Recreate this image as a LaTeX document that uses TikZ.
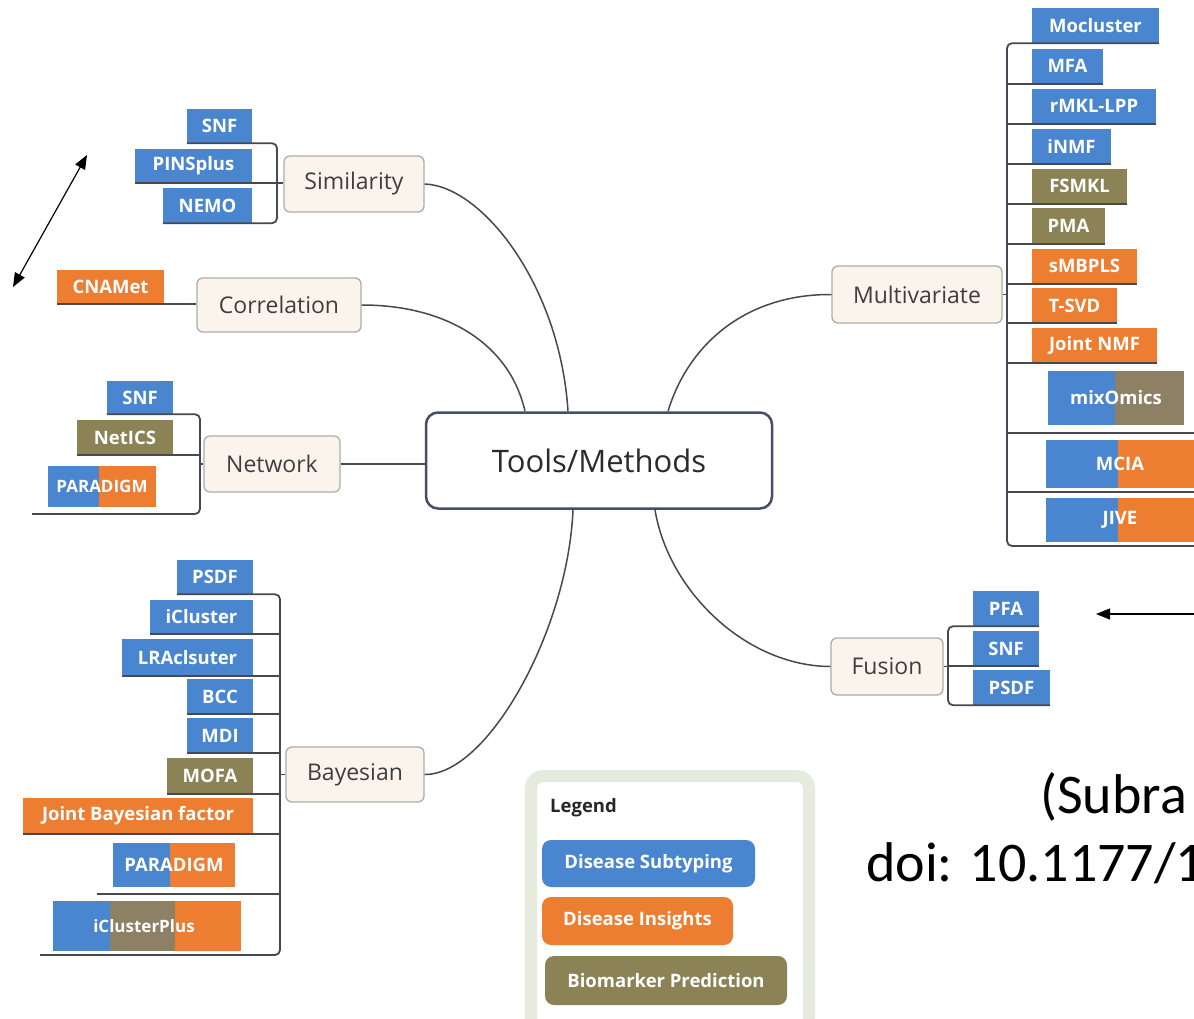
\documentclass[tikz,border=0pt]{standalone}
\usepackage{fontspec}
\setmainfont{Open Sans}
\newfontfamily\citefont{Carlito}
\usetikzlibrary{arrows.meta}
\definecolor{cblue}{RGB}{74,134,207}
\definecolor{corange}{RGB}{237,125,49}
\definecolor{colive}{RGB}{139,131,86}
\definecolor{cbrown}{RGB}{142,128,100}
\definecolor{cbeige}{RGB}{251,244,236}
\definecolor{cbeigeborder}{RGB}{175,172,168}
\definecolor{cline}{RGB}{72,72,80}
\definecolor{ccenter}{RGB}{70,76,105}
\definecolor{ctext}{RGB}{62,62,62}
\definecolor{clegbord}{RGB}{230,235,222}
\tikzset{
  leaftxt/.style={inner sep=0pt, text=white, font=\fontsize{18.5}{20}\selectfont\bfseries},
  leafb/.style={leaftxt, fill=cblue},
  leafo/.style={leaftxt, fill=corange},
  leafg/.style={leaftxt, fill=colive},
  branch/.style={draw=cbeigeborder, fill=cbeige, rounded corners=6pt, line width=1.3pt, text=ctext, inner sep=0pt, font=\fontsize{23}{26}\selectfont},
  hub/.style={draw=ccenter, fill=white, rounded corners=12pt, line width=2.5pt, text=ctext!70!black, inner sep=0pt, font=\fontsize{31}{34}\selectfont},
  conn/.style={draw=cline, line width=1.5pt},
  bline/.style={draw=cline, line width=1.8pt, rounded corners=5pt},
  pill/.style={rounded corners=9pt, inner sep=0pt, text=white, font=\fontsize{18.5}{20}\selectfont\bfseries},
  tip/.style={line width=1.2pt, black},
  citetxt/.style={anchor=base west, inner sep=0pt, font=\citefont\fontsize{56}{60}\selectfont}
}
\begin{document}
\begin{tikzpicture}[x=1pt,y=-1pt]
\useasboundingbox (0,0) rectangle (1194,1018);
\fill[white] (0,0) rectangle (1194,1018);

% bracket x references
\coordinate (bxS) at (277,0);
\coordinate (bxN) at (200,0);
\coordinate (bxB) at (280,0);
\coordinate (bxM) at (1007,0);
\coordinate (bxF) at (948,0);

% central and branches
\node[hub, minimum width=346, minimum height=96] (tools) at (599,460.5) {Tools/Methods};
\node[branch, minimum width=140, minimum height=56] (simil) at (354,184) {Similarity};
\node[branch, minimum width=164, minimum height=54] (correl) at (279,305) {Correlation};
\node[branch, minimum width=136, minimum height=56] (network) at (272,464) {Network};
\node[branch, minimum width=138, minimum height=55] (bayes) at (355,774.5) {Bayesian};
\node[branch, minimum width=170, minimum height=57] (multi) at (917,294.5) {Multivariate};
\node[branch, minimum width=112, minimum height=57] (fusion) at (887,666.5) {Fusion};

% connectors to the hub
\draw[conn] (simil.east) .. controls (482,186) and (560,285) .. ([xshift=-31pt]tools.north);
\draw[conn] (correl.east) .. controls (448,305) and (510,345) .. ([xshift=-74pt]tools.north);
\draw[conn] (multi.west) .. controls (745,294) and (688,345) .. ([xshift=69pt]tools.north);
\draw[conn] (bayes.east) .. controls (488,775) and (568,630) .. ([xshift=-26pt]tools.south);
\draw[conn] (fusion.west) .. controls (745,666) and (668,590) .. ([xshift=56pt]tools.south);
\draw[conn] (network.east) -- (tools.west |- network.east);

% Similarity leaves
\node[leafb, minimum width=65, minimum height=34] (simsnf) at (219.5,126) {SNF};
\node[leafb, minimum width=117, minimum height=34] (simpins) at (193.5,166) {PINSplus};
\node[leafb, minimum width=89, minimum height=35] (simnemo) at (207.5,205.5) {NEMO};
\draw[bline] (simsnf.south west) -- (simsnf.south west -| bxS) -- (simnemo.south west -| bxS) -- (simnemo.south west);
\draw[bline] (simpins.south west) -- (simpins.south west -| simil.west);

% Correlation leaf
\node[leafo, minimum width=107, minimum height=34] (cnamet) at (110.5,287) {CNAMet};
\draw[bline] (cnamet.south west) -- (cnamet.south west -| correl.west);

% Network leaves
\node[leafb, minimum width=66, minimum height=33] (netsnf) at (140,397.5) {SNF};
\node[leafg, minimum width=96, minimum height=35] (netics) at (125,437.5) {NetICS};
\fill[cblue] (48,466) rectangle (99,507);
\fill[corange] (99,466) rectangle (156,507);
\node[leaftxt, minimum width=108, minimum height=41, font=\fontsize{17}{19}\selectfont\bfseries] (netpar) at (102,486.5) {PARADIGM};
\coordinate (netU) at (32,514);
\draw[bline] (netsnf.south west) -- (netsnf.south west -| bxN) -- (netU -| bxN) -- (netU);
\draw[bline] (netics.south west) -- (netics.south west -| bxN);
\draw[bline] (network.west) -- (network.west -| bxN);

% Bayesian leaves
\node[leafb, minimum width=76, minimum height=34] (baypsdf) at (215,577) {PSDF};
\node[leafb, minimum width=103, minimum height=34] (bayicl) at (201.5,617) {iCluster};
\node[leafb, minimum width=131, minimum height=37] (baylra) at (187.5,657.5) {LRAclsuter};
\node[leafb, minimum width=66, minimum height=35] (baybcc) at (220,696.5) {BCC};
\node[leafb, minimum width=66, minimum height=35] (baymdi) at (220,735.5) {MDI};
\node[leafg, minimum width=86, minimum height=36] (baymofa) at (210,776) {MOFA};
\node[leafo, minimum width=230, minimum height=36] (bayjbf) at (138,816) {Joint Bayesian factor};
\fill[cblue] (113,843) rectangle (170,887);
\fill[corange] (170,843) rectangle (235,887);
\node[leaftxt, minimum width=122, minimum height=44] (baypar) at (174,865) {PARADIGM};
\fill[cblue] (53,901) rectangle (110,951);
\fill[cbrown] (110,901) rectangle (175,951);
\fill[corange] (175,901) rectangle (241,951);
\node[leaftxt, minimum width=188, minimum height=50, font=\fontsize{17}{19}\selectfont\bfseries] (baycplus) at (144,926) {iClusterPlus};
\coordinate (bayParU) at (97,894);
\coordinate (bayU) at (40,955);
\draw[bline] (baypsdf.south west) -- (baypsdf.south west -| bxB) -- (bayU -| bxB) -- (bayU);
\foreach \n in {bayicl,baylra,baybcc,baymdi,baymofa,bayjbf}
  \draw[bline] (\n.south west) -- (\n.south west -| bxB);
\draw[bline] (bayParU) -- (bayParU -| bxB);
\draw[bline] (bayes.west) -- (bayes.west -| bxB);

% Multivariate leaves
\node[leafb, minimum width=127, minimum height=35] (mvmoc) at (1095.5,25.5) {Mocluster};
\node[leafb, minimum width=71, minimum height=35] (mvmfa) at (1067.5,66) {MFA};
\node[leafb, minimum width=124, minimum height=35] (mvrmkl) at (1094,106) {rMKL-LPP};
\node[leafb, minimum width=79, minimum height=35] (mvinmf) at (1071.5,146) {iNMF};
\node[leafg, minimum width=95, minimum height=35] (mvfsmkl) at (1079.5,186) {FSMKL};
\node[leafg, minimum width=73, minimum height=36] (mvpma) at (1068.5,225.5) {PMA};
\node[leafo, minimum width=105, minimum height=35] (mvsmb) at (1084.5,266) {sMBPLS};
\node[leafo, minimum width=85, minimum height=35] (mvtsvd) at (1074.5,305.5) {T-SVD};
\node[leafo, minimum width=125, minimum height=35] (mvjnmf) at (1094.5,345) {Joint NMF};
\fill[cblue] (1048,371) rectangle (1115,425);
\fill[cbrown] (1115,371) rectangle (1184,425);
\node[leaftxt, minimum width=136, minimum height=54] (mvmix) at (1116,398) {mixOmics};
\fill[cblue] (1046,440) rectangle (1118,488);
\fill[corange] (1118,440) rectangle (1200,488);
\node[leaftxt, minimum width=148, minimum height=48] (mvmcia) at (1120,464) {MCIA};
\fill[cblue] (1046,498) rectangle (1118,542);
\fill[corange] (1118,498) rectangle (1200,542);
\node[leaftxt, minimum width=148, minimum height=44] (mvjive) at (1120,520) {JIVE};
\coordinate (mvMixU) at (1200,433);
\coordinate (mvMciaU) at (1200,492);
\coordinate (mvU) at (1200,546);
\draw[bline] (mvmoc.south east) -- (mvmoc.south east -| bxM) -- (mvU -| bxM) -- (mvU);
\foreach \n in {mvmfa,mvrmkl,mvinmf,mvfsmkl,mvpma,mvsmb,mvtsvd,mvjnmf}
  \draw[bline] (\n.south east) -- (\n.south east -| bxM);
\draw[bline] (mvMixU) -- (mvMixU -| bxM);
\draw[bline] (mvMciaU) -- (mvMciaU -| bxM);
\draw[bline] (multi.east) -- (multi.east -| bxM);

% Fusion leaves
\node[leafb, minimum width=66, minimum height=35] (fupfa) at (1006,608.5) {PFA};
\node[leafb, minimum width=66, minimum height=35] (fusnf) at (1006,648.5) {SNF};
\node[leafb, minimum width=77, minimum height=35] (fupsdf) at (1011.5,687.5) {PSDF};
\draw[bline] (fupfa.south east) -- (fupfa.south east -| bxF) -- (fupsdf.south east -| bxF) -- (fupsdf.south east);
\draw[bline] (fusnf.south east) -- (fusnf.south east -| bxF);
\draw[bline] (fusion.east) -- (fusion.east -| bxF);

% arrows
\coordinate (dA) at (87,155);
\coordinate (dB) at (13,287);
\draw[tip, {Triangle[length=14pt,width=11pt]}-{Triangle[length=14pt,width=11pt]}] (dB) -- (dA);
\coordinate (rA) at (1198,614);
\coordinate (rB) at (1096,614);
\draw[tip, -{Triangle[length=14pt,width=11pt]}] (rA) -- (rB);

% legend
\node[draw=clegbord, fill=white, line width=12pt, rounded corners=12pt, minimum width=278, minimum height=270, inner sep=0pt] (legend) at (670,911) {};
\node[anchor=base west, inner sep=0pt, text=black!85, font=\fontsize{18.5}{20}\selectfont\bfseries] (legtitle) at (550,812) {Legend};
\node[pill, fill=cblue, minimum width=213, minimum height=47] (leg1) at (648.5,863.5) {Disease Subtyping};
\node[pill, fill=corange, minimum width=191, minimum height=48] (leg2) at (637.5,921) {Disease Insights};
\node[pill, fill=colive, minimum width=242, minimum height=49] (leg3) at (666,980.5) {Biomarker Prediction};

% citation
\node[citetxt] (cite1) at (1040,813) {(Subra};
\node[citetxt] (cite2) at (866,881) {doi: 10.1177/1};
\end{tikzpicture}
\end{document}
